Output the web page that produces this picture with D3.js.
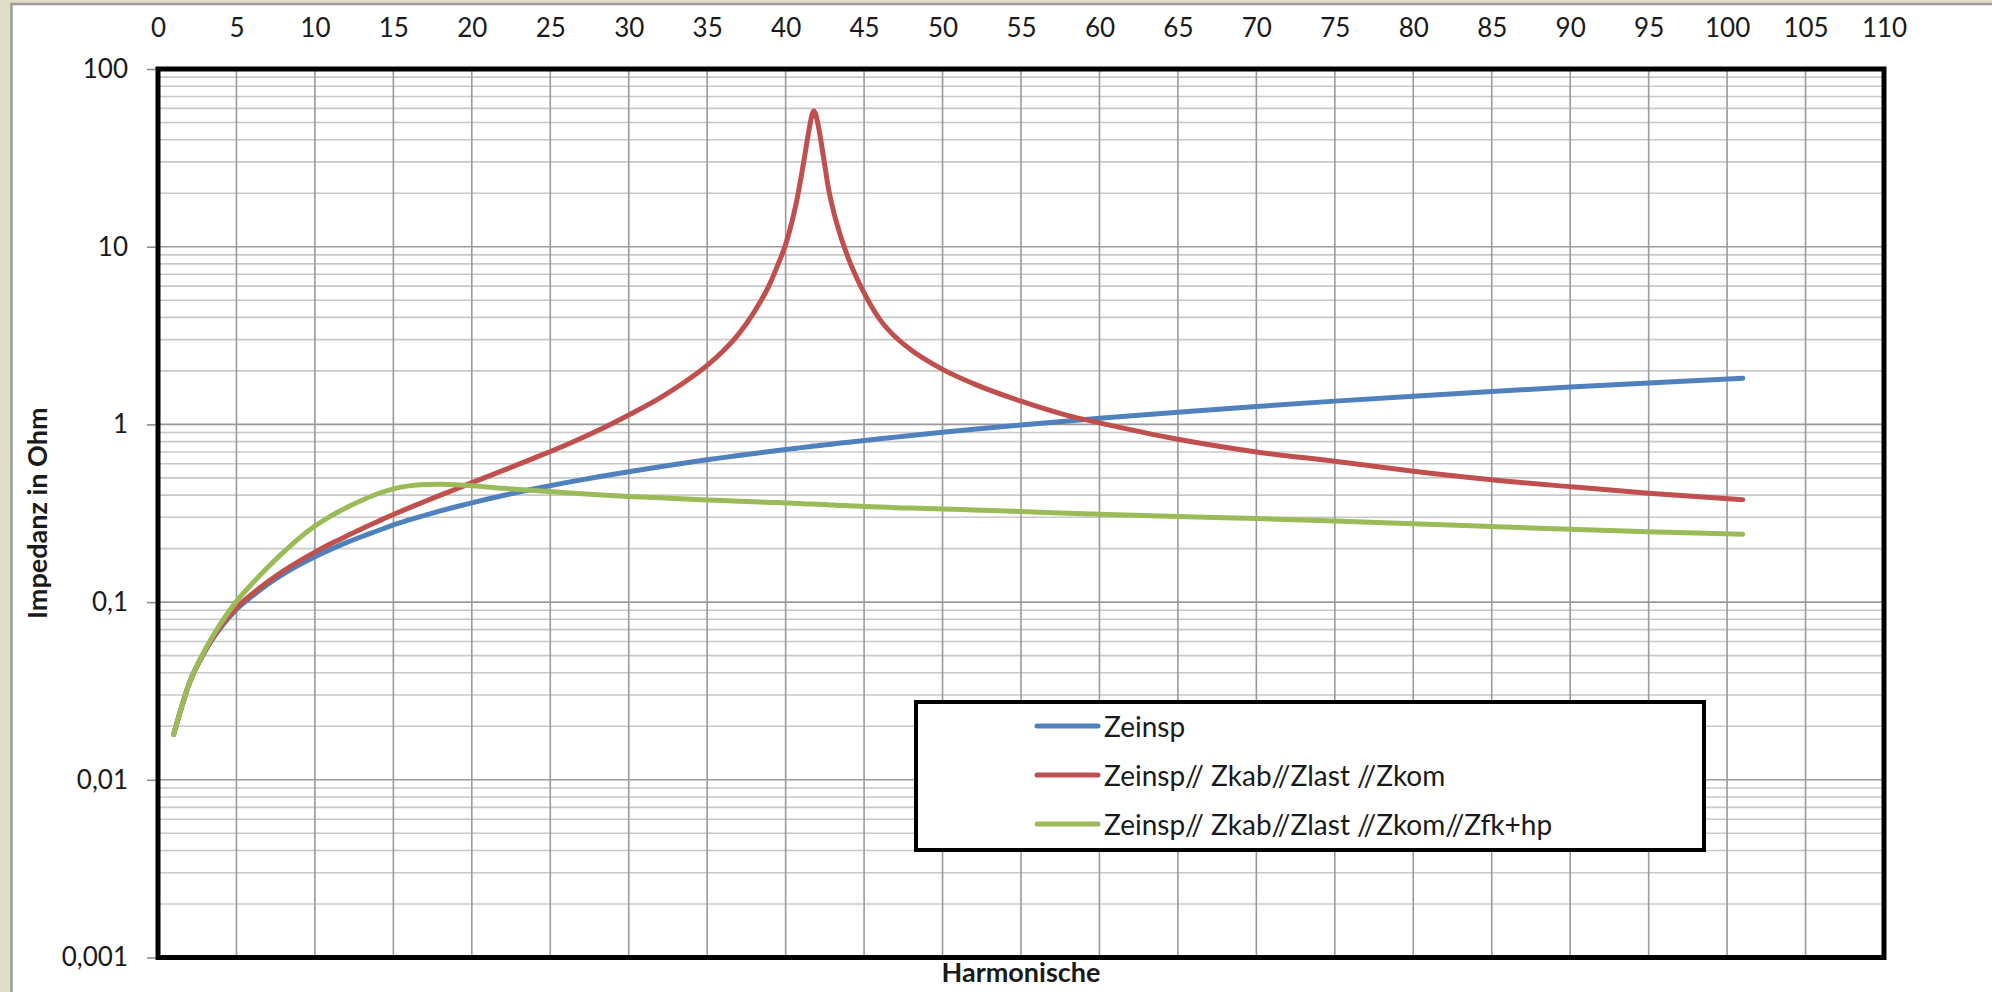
<!DOCTYPE html>
<html>
<head>
<meta charset="utf-8">
<script src="https://cdn.jsdelivr.net/npm/d3@7"></script>
<style>
  html, body { margin: 0; padding: 0; background: #ffffff; }
  svg { display: block; }
  text { font-family: Lato, "Open Sans", sans-serif; fill: #1a1a1a; }
</style>
</head>
<body>
<svg id="chart" width="1992" height="992"></svg>
<script>
// ---------------- data ----------------
const harmonics = [1,2,3,4,5,6,7,8,9,10,11,12,13,14,15,16,17,18,19,20,22,24,26,28,30,32,34,35,36,37,38,39,39.5,40,40.5,40.7,41,41.3,41.5,41.7,41.8,41.9,42.1,42.3,42.5,42.7,43,43.5,44,45,46,47,48,50,52,55,58,60,65,70,75,80,85,90,95,101];

const zeinsp = [0.018,0.035,0.053,0.072,0.091,0.108,0.126,0.144,0.162,0.180,0.198,0.216,0.234,0.252,0.272,0.290,0.308,0.326,0.344,0.362,0.398,0.434,0.470,0.506,0.542,0.578,0.614,0.632,0.650,0.668,0.686,0.704,0.713,0.722,0.731,0.735,0.740,0.746,0.749,0.753,0.755,0.756,0.760,0.764,0.767,0.771,0.776,0.785,0.794,0.812,0.830,0.848,0.866,0.902,0.938,0.992,1.046,1.082,1.172,1.262,1.352,1.442,1.532,1.622,1.712,1.82];

const zeinspKomp = [0.018,0.035,0.053,0.073,0.093,0.111,0.130,0.150,0.170,0.191,0.213,0.235,0.259,0.284,0.311,0.339,0.368,0.400,0.433,0.470,0.551,0.648,0.766,0.920,1.13,1.41,1.84,2.15,2.58,3.22,4.3,6.2,7.9,10.3,15,18,25,36,46,56,58,56,47,37,28.5,22,16.5,11.5,8.6,5.5,3.9,3.1,2.62,2.04,1.69,1.35,1.12,1.02,0.825,0.70,0.62,0.545,0.488,0.446,0.41,0.377];

const zeinspFilter = [0.018,0.035,0.054,0.076,0.101,0.127,0.157,0.191,0.229,0.268,0.305,0.340,0.374,0.407,0.434,0.451,0.459,0.461,0.458,0.452,0.437,0.424,0.413,0.402,0.393,0.386,0.379,0.376,0.373,0.370,0.367,0.364,0.363,0.361,0.360,0.359,0.358,0.357,0.357,0.356,0.356,0.355,0.355,0.354,0.354,0.353,0.352,0.350,0.349,0.345,0.343,0.340,0.338,0.334,0.330,0.323,0.316,0.312,0.303,0.295,0.286,0.276,0.266,0.257,0.249,0.241];

const seriesNames = ["Zeinsp", "Zeinsp// Zkab//Zlast //Zkom", "Zeinsp// Zkab//Zlast //Zkom//Zfk+hp"];
const seriesColors = ["#4f81bd", "#c0504d", "#9bbb59"];

const xTicks = [0,5,10,15,20,25,30,35,40,45,50,55,60,65,70,75,80,85,90,95,100,105,110];
const yTicks = [100, 10, 1, 0.1, 0.01, 0.001];
const yTickLabels = ["100", "10", "1", "0,1", "0,01", "0,001"];

const xTitle = "Harmonische";
const yTitle = "Impedanz in Ohm";

// ---------------- layout ----------------
const W = 1992, H = 992;
const plot = { left: 158, right: 1884, top: 69, bottom: 957.5 };

const svg = d3.select("#chart");

// background (beige window edge + white chart area)
svg.append("rect").attr("x", 0).attr("y", 0).attr("width", W).attr("height", H).attr("fill", "#e2ddc6");
svg.append("rect").attr("x", 11.5).attr("y", 4).attr("width", W).attr("height", H)
  .attr("fill", "#ffffff").attr("stroke", "#9c9c9c").attr("stroke-width", 2.5);

const x = d3.scaleLinear().domain([0, 110]).range([plot.left, plot.right]);
const y = d3.scaleLog().domain([0.001, 100]).range([plot.bottom, plot.top]);

// ---------------- gridlines ----------------
const grid = svg.append("g");
const minorVals = [];
[0.001, 0.01, 0.1, 1, 10].forEach(d => { for (let k = 2; k <= 9; k++) minorVals.push(d * k); });
grid.selectAll("line.minor").data(minorVals).join("line")
  .attr("x1", plot.left).attr("x2", plot.right)
  .attr("y1", d => y(d)).attr("y2", d => y(d))
  .attr("stroke", "#c8c8c8").attr("stroke-width", 1.6);
grid.selectAll("line.major").data(yTicks).join("line")
  .attr("x1", plot.left).attr("x2", plot.right)
  .attr("y1", d => y(d)).attr("y2", d => y(d))
  .attr("stroke", "#9a9a9a").attr("stroke-width", 1.6);
grid.selectAll("line.vert").data(xTicks).join("line")
  .attr("x1", d => x(d)).attr("x2", d => x(d))
  .attr("y1", plot.top).attr("y2", plot.bottom)
  .attr("stroke", "#9a9a9a").attr("stroke-width", 1.6);

// ---------------- series lines ----------------
const allSeries = [zeinsp, zeinspKomp, zeinspFilter];
const line = d3.line()
  .x(d => x(d[0]))
  .y(d => y(d[1]))
  .curve(d3.curveMonotoneX);

svg.append("g").selectAll("path").data(allSeries).join("path")
  .attr("d", vals => line(harmonics.map((h, i) => [h, vals[i]])))
  .attr("fill", "none")
  .attr("stroke", (d, i) => seriesColors[i])
  .attr("stroke-width", 5)
  .attr("stroke-linecap", "round")
  .attr("stroke-linejoin", "round");

// ---------------- axes ----------------
const yAxis = d3.axisLeft(y)
  .tickValues(yTicks)
  .tickFormat((d, i) => yTickLabels[i])
  .tickSize(11)
  .tickPadding(19);
const gy = svg.append("g").attr("transform", `translate(${plot.left},0)`).call(yAxis);
gy.select(".domain").remove();
gy.selectAll(".tick line").attr("stroke", "#8c8c8c").attr("stroke-width", 1.6);
gy.selectAll(".tick text").attr("font-size", 26).attr("font-family", "Lato, sans-serif").attr("fill", "#1a1a1a");

const xAxis = d3.axisTop(x)
  .tickValues(xTicks)
  .tickFormat(d3.format("d"))
  .tickSize(0)
  .tickPadding(32);
const gx = svg.append("g").attr("transform", `translate(0,${plot.top})`).call(xAxis);
gx.select(".domain").remove();
gx.selectAll(".tick text").attr("font-size", 26).attr("font-family", "Lato, sans-serif").attr("fill", "#1a1a1a");

// plot frame
svg.append("rect")
  .attr("x", plot.left).attr("y", plot.top)
  .attr("width", plot.right - plot.left).attr("height", plot.bottom - plot.top)
  .attr("fill", "none").attr("stroke", "#000").attr("stroke-width", 5);

// axis titles
svg.append("text")
  .attr("x", (plot.left + plot.right) / 2).attr("y", 982)
  .attr("text-anchor", "middle")
  .attr("font-size", 27).attr("font-weight", "bold")
  .text(xTitle);
svg.append("text")
  .attr("transform", `translate(47,${(plot.top + plot.bottom) / 2}) rotate(-90)`)
  .attr("text-anchor", "middle")
  .attr("font-size", 27).attr("font-weight", "bold")
  .text(yTitle);

// ---------------- legend ----------------
const lg = svg.append("g");
lg.append("rect").attr("x", 916).attr("y", 702).attr("width", 788).attr("height", 148)
  .attr("fill", "#fff").attr("stroke", "#000").attr("stroke-width", 4);
const rowsY = [726, 775, 824];
seriesNames.forEach((name, i) => {
  lg.append("line").attr("x1", 1037).attr("x2", 1098)
    .attr("y1", rowsY[i]).attr("y2", rowsY[i])
    .attr("stroke", seriesColors[i]).attr("stroke-width", 5).attr("stroke-linecap", "round");
  lg.append("text").attr("x", 1104).attr("y", rowsY[i])
    .attr("dominant-baseline", "central")
    .attr("font-size", 28)
    .text(name);
});
</script>
</body>
</html>
